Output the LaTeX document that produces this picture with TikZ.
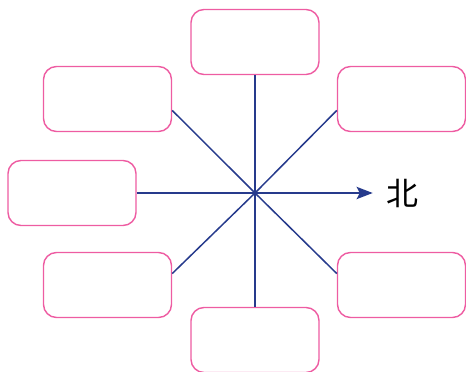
\documentclass[tikz,border=0pt]{standalone}
\usepackage{fontspec}
\newfontfamily\cjk{Noto Sans CJK SC}
\usepackage{xcolor}
\usepackage{tikz}
\usetikzlibrary{arrows.meta}
\definecolor{boxpink}{RGB}{238,92,162}
\definecolor{linenavy}{RGB}{38,58,140}
\tikzset{
    dirbox/.style={rectangle,rounded corners=13pt,draw=boxpink,line width=1.4pt,fill=white,minimum width=128pt,minimum height=65pt,inner sep=0pt},
    mainline/.style={draw=linenavy,line width=2.8pt},
    diagline/.style={draw=linenavy,line width=1.5pt},
    myarrow/.style={-{Stealth[length=16pt,width=12pt,inset=3pt]}, shorten >=13pt},
    dirlabel/.style={inner sep=0pt,font=\cjk\fontsize{32}{32}\selectfont}
}
\begin{document}
\begin{tikzpicture}[x=1pt,y=1pt]
    \useasboundingbox (0,0) rectangle (466,372);
    \coordinate (centre) at (255,179);
    \draw (255,330) node[dirbox] (top) {};
    \draw (107.5,273) node[dirbox] (topleft) {};
    \draw (401.5,273) node[dirbox] (topright) {};
    \draw (72,179) node[dirbox] (left) {};
    \draw (107.5,87) node[dirbox] (bottomleft) {};
    \draw (401.5,87) node[dirbox] (bottomright) {};
    \draw (255,32) node[dirbox] (bottom) {};
    \draw (402,179) node[dirlabel] (north) {北};
    \draw[diagline] (topleft.-10) -- (centre) -- (bottomright.170);
    \draw[diagline] (bottomleft.10) -- (centre) -- (topright.190);
    \draw[mainline] (top.south) -- (bottom.north);
    \draw[mainline,myarrow] (left.east) -- (north.west);
\end{tikzpicture}
\end{document}
